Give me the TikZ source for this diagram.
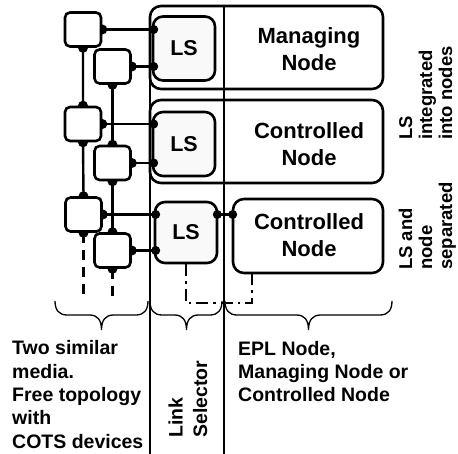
\documentclass[tikz,border=0pt]{standalone}
\usepackage{fontspec}
\setmainfont{Liberation Sans}
\usetikzlibrary{backgrounds}

\tikzset{
    hub/.style={draw, line width=2.6pt, rounded corners=5pt, fill=white, minimum width=36pt, minimum height=34pt},
    selbox/.style={draw, line width=2.6pt, rounded corners=10pt, fill=gray!5, minimum width=62pt, minimum height=64pt, font=\fontsize{21.5}{24}\selectfont\bfseries},
    nodebox/.style={draw, line width=2.6pt, rounded corners=11pt, inner sep=0pt},
    boxtext/.style={align=center, font=\fontsize{22}{26.5}\selectfont\bfseries},
    note/.style={align=left, inner sep=0pt, anchor=base west, font=\fontsize{19.5}{23.3}\selectfont\bfseries},
    sidenote/.style={align=left, inner sep=0pt, anchor=base west, rotate=90, font=\fontsize{18.5}{20}\selectfont\bfseries},
    link/.style={line width=2.4pt},
    thinline/.style={line width=1.3pt},
}

\newcommand{\groupbrace}[3]{%
    \draw[thinline] (#1,301) .. controls (#1,310) and (#1+4,315) .. (#1+12,315) -- (#3-12,315)
        .. controls (#3-4,315) and (#3,320) .. (#3,330) .. controls (#3,320) and (#3+4,315) .. (#3+12,315)
        -- (#2-12,315) .. controls (#2-4,315) and (#2,310) .. (#2,301);}

\begin{document}
\begin{tikzpicture}[x=1pt, y=-1pt]
    \useasboundingbox (0,0) rectangle (458,454);

    \node[nodebox, minimum width=233pt, minimum height=83pt] (mn) at (266.5,47.5) {};
    \node[nodebox, minimum width=233pt, minimum height=83pt] (cn) at (266.5,141.5) {};
    \node[nodebox, minimum width=150pt, minimum height=74pt] (cnsep) at (308,236) {};

    \node[boxtext] (mntext) at (309,49) {Managing\\Node};
    \node[boxtext] (cntext) at (309,144) {Controlled\\Node};
    \node[boxtext] (cnseptext) at (309,235) {Controlled\\Node};

    \draw[thinline] (150,20) -- (150,454);
    \draw[thinline] (224,6) -- (224,454);

    \node[hub] (a1) at (83,29.5) {};
    \node[hub] (a2) at (83,124) {};
    \node[hub] (a3) at (83.5,214.5) {};
    \node[hub] (b1) at (112.5,66.5) {};
    \node[hub] (b2) at (112.5,163) {};
    \node[hub] (b3) at (112.5,250.5) {};

    \node[selbox] (ls1) at (184,48.5) {LS};
    \node[selbox] (ls2) at (184,144) {LS};
    \node[selbox, minimum height=61pt] (ls3) at (186,232.5) {LS};

    \coordinate (a3end) at (83.5,297);
    \coordinate (b3end) at (112.5,297);
    \coordinate (cnturn) at (252,303);
    \coordinate (cnport) at (252,273);

    \begin{pgfonlayer}{background}
        \draw[link] (a1.south) -- (a2.north) (a2.south) -- (a3.north);
        \draw[link] (b1.south) -- (b2.north) (b2.south) -- (b3.north);
        \foreach \h/\s in {a1/ls1, b1/ls1, a2/ls2, b2/ls2, a3/ls3, b3/ls3}
            \draw[link] (\h.east) -- (\h.east -| \s.west);
        \draw[link] (ls3.east |- a3.east) -- (cnsep.west |- a3.east);
        \draw[link, dash pattern=on 10pt off 7pt] (a3.south) -- (a3end);
        \draw[link, dash pattern=on 10pt off 7pt] (b3.south) -- (b3end);
        \draw[link, dash pattern=on 12pt off 5pt on 2.5pt off 5pt] (ls3.south) |- (cnturn) -- (cnport);
        \foreach \p in {a1.south, a1.east, b1.south, b1.east, a2.north, a2.south, a2.east,
                        b2.north, b2.south, b2.east, a3.north, a3.south, a3.east, b3.north, b3.south, b3.east}
            \fill (\p) circle (5pt);
    \end{pgfonlayer}

    \foreach \h/\s in {a1/ls1, b1/ls1, a2/ls2, b2/ls2, a3/ls3, b3/ls3}
        \fill (\h.east -| \s.west) ++(2,0) circle (4.5pt);
    \fill (ls3.east |- a3.east) ++(-1,0) circle (4.5pt);
    \fill (cnsep.west |- a3.east) ++(1,0) circle (4.5pt);

    \groupbrace{55}{148}{101.5}
    \groupbrace{150}{222}{186.5}
    \groupbrace{225}{392}{308.5}

    \node[note] (media) at (12,448) {Two similar\\media.\\Free topology\\with\\COTS devices};
    \node[note] (epl) at (238,402) {EPL Node,\\Managing Node or\\Controlled Node};
    \node[note, rotate=90, font=\fontsize{19.5}{24.5}\selectfont\bfseries] (linksel) at (207,438) {Link\\Selector};

    \node[sidenote] (integrated) at (452,140) {LS\\integrated\\into nodes};
    \node[sidenote] (separated) at (452,270) {LS and\\node\\separated};
\end{tikzpicture}
\end{document}
